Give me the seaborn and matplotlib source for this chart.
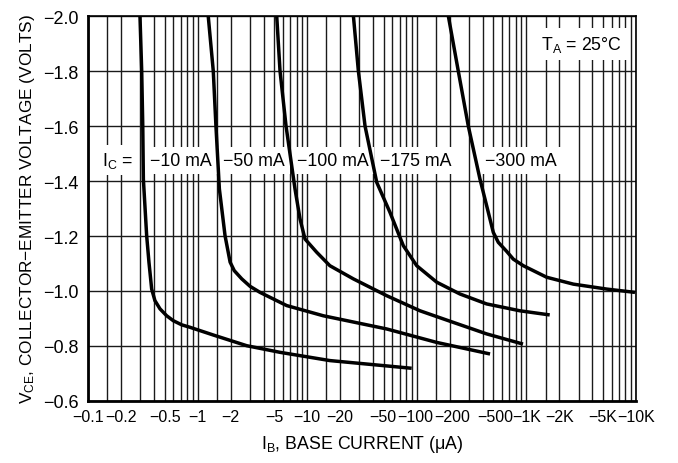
import numpy as np
import pandas as pd
import matplotlib
matplotlib.use("Agg")
import matplotlib.pyplot as plt
import matplotlib.transforms as mtransforms
import seaborn as sns
from matplotlib import font_manager
from matplotlib.ticker import NullFormatter

# ---------------- data ----------------
ib_10 = [0.298, 0.309, 0.316, 0.320, 0.343, 0.360, 0.381, 0.408, 0.454, 0.522,
         0.600, 0.716, 0.853, 1.39, 2.81, 5.65, 16.1, 89.8]
vce_10 = [-2.0, -1.8, -1.6, -1.407, -1.201, -1.104, -1.007, -0.965, -0.935, -0.910,
          -0.892, -0.877, -0.868, -0.84, -0.801, -0.777, -0.747, -0.719]

ib_50 = [1.25, 1.39, 1.47, 1.58, 1.78, 1.98, 2.16, 2.53, 3.01, 3.71, 6.50, 14.0,
         53.1, 152, 466]
vce_50 = [-2.0, -1.8, -1.6, -1.371, -1.201, -1.105, -1.074, -1.044, -1.017, -0.995,
          -0.947, -0.910, -0.862, -0.813, -0.771]

ib_100 = [5.27, 5.65, 6.41, 7.74, 8.60, 9.55, 12.2, 16.1, 26.4, 53.1, 107, 215,
          434, 931]
vce_100 = [-2.0, -1.8, -1.6, -1.371, -1.262, -1.189, -1.141, -1.092, -1.044, -0.983,
           -0.928, -0.886, -0.844, -0.807]

ib_175 = [26.4, 29.3, 33.7, 43.1, 56.9, 75.3, 99.8, 152, 248, 434, 874, 1632]
vce_175 = [-2.0, -1.8, -1.6, -1.395, -1.286, -1.165, -1.092, -1.032, -0.989, -0.953,
           -0.928, -0.913]

ib_300 = [194, 239, 295, 377, 434, 499, 554, 661, 759, 937, 1531, 2679, 5405, 9792]
vce_300 = [-2.0, -1.8, -1.6, -1.407, -1.310, -1.213, -1.177, -1.144, -1.116, -1.092,
           -1.050, -1.025, -1.007, -0.995]

curve_names = ["−10 mA", "−50 mA", "−100 mA", "−175 mA", "−300 mA"]
curve_label_x = [0.368, 1.705, 8.07, 46.1, 419]

x_tick_values = [0.1, 0.2, 0.5, 1, 2, 5, 10, 20, 50, 100, 200, 500, 1000, 2000, 5000, 10000]
x_tick_labels = ["−0.1", "−0.2", "−0.5", "−1", "−2", "−5", "−10", "−20", "−50",
                 "−100", "−200", "−500", "−1K", "−2K", "−5K", "−10K"]
y_tick_values = [-2.0, -1.8, -1.6, -1.4, -1.2, -1.0, -0.8, -0.6]
y_tick_labels = ["−2.0", "−1.8", "−1.6", "−1.4", "−1.2", "−1.0", "−0.8", "−0.6"]
grid_subs = [1, 1.5, 2, 3, 4, 5, 6, 7, 8, 9]

# ---------------- styling ----------------
sns.set_theme(style="white")
names = {f.name for f in font_manager.fontManager.ttflist}
if "Liberation Sans Narrow" in names:
    FONT, k = "Liberation Sans Narrow", 1.18
else:
    FONT, k = "Liberation Sans", 1.0
plt.rcParams["font.family"] = [FONT, "DejaVu Sans"]
plt.rcParams["mathtext.default"] = "regular"

fig = plt.figure(figsize=(6.78, 4.64), dpi=100)
ax = fig.add_axes([88 / 678, 62 / 464, 548 / 678, 385 / 464])

frames = []
for name, xs, ys in zip(curve_names, [ib_10, ib_50, ib_100, ib_175, ib_300],
                        [vce_10, vce_50, vce_100, vce_175, vce_300]):
    frames.append(pd.DataFrame({"ib": xs, "vce": ys, "curve": name,
                                "order": range(len(xs))}))
df = pd.concat(frames, ignore_index=True)

sns.lineplot(data=df, x="ib", y="vce", units="curve", estimator=None, sort=False,
             color="black", lw=2.5, ax=ax, zorder=4, solid_capstyle="butt",
             solid_joinstyle="round")

ax.set_xscale("log")
ax.set_xlim(0.1, 10000)
ax.set_ylim(-0.6, -2.0)

# grid lines (1, 1.5, 2 ... 9 per decade)
grid_x = [s * 10.0 ** d for d in range(-1, 4) for s in grid_subs]
ax.set_xticks(grid_x, minor=True)
ax.xaxis.set_minor_formatter(NullFormatter())
ax.set_xticks(x_tick_values)
ax.set_xticklabels(x_tick_labels)
ax.set_yticks(y_tick_values)
ax.set_yticklabels(y_tick_labels)
ax.grid(True, which="minor", axis="x", color="#1a1a1a", lw=1.0)
ax.grid(True, which="major", axis="both", color="#1a1a1a", lw=1.0)
ax.set_axisbelow(True)
ax.tick_params(axis="both", which="both", length=0)
ax.tick_params(axis="x", labelsize=11.5 * k, pad=6)
ax.tick_params(axis="y", labelsize=13 * k, pad=7)
for lab in ax.get_xticklabels() + ax.get_yticklabels():
    lab.set_color("black")

# nudge crowded labels apart (as in the reference)
nudges = {"−50": -1.0, "−100": -2.0, "−200": 2.0, "−500": 1.5}
for lab in ax.get_xticklabels():
    dx = nudges.get(lab.get_text())
    if dx:
        lab.set_transform(lab.get_transform() +
                          mtransforms.ScaledTranslation(dx / 100, 0, fig.dpi_scale_trans))

for side in ["left", "bottom"]:
    ax.spines[side].set_linewidth(2.0)
for side in ["top", "right"]:
    ax.spines[side].set_linewidth(1.2)
for sp in ax.spines.values():
    sp.set_color("black")
    sp.set_zorder(5)

ax.set_xlabel("I$_B$, BASE CURRENT (μA)", fontsize=12.8 * k, color="black", labelpad=6)
ax.set_ylabel("V$_{CE}$, COLLECTOR−EMITTER VOLTAGE (VOLTS)", fontsize=12.4 * k,
              color="black", labelpad=4)

box = dict(boxstyle="square,pad=0.3", fc="white", ec="none")
label_y = -1.458
ax.text(0.133, label_y, "I$_C$ =", fontsize=12.8 * k, ha="left", va="baseline",
        color="black", bbox=box, zorder=3)
for name, xl in zip(curve_names, curve_label_x):
    ax.text(xl, label_y, name, fontsize=12.8 * k, ha="left", va="baseline",
            color="black", bbox=box, zorder=3)
ax.text(1358, -1.88, "T$_A$ = 25°C", fontsize=12.8 * k, ha="left", va="baseline",
        color="black", bbox=dict(boxstyle="square,pad=0.35", fc="white", ec="none"),
        zorder=3)

fig.savefig("out.png", dpi=100)
